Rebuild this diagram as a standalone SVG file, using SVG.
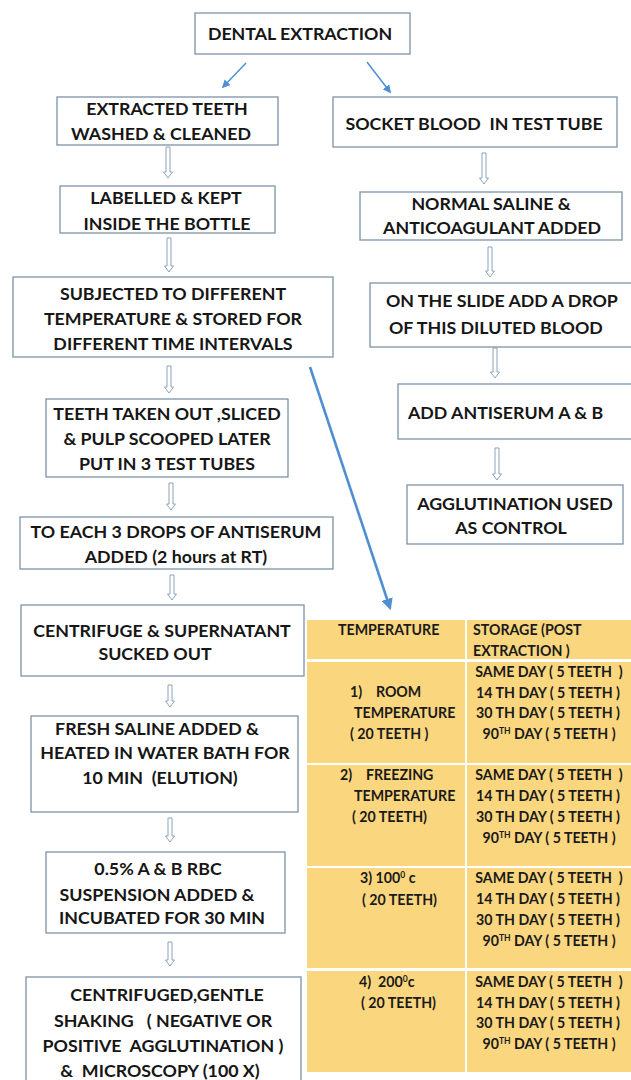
<svg xmlns="http://www.w3.org/2000/svg" width="631" height="1080" viewBox="0 0 631 1080">
<style>
.box{fill:#fff;stroke:#7d92a8;stroke-width:1.3}
.t{font-family:Lato,"Open Sans",sans-serif;font-weight:bold;font-size:17.8px;fill:#161616;text-anchor:middle}
.s{text-anchor:start}
.tb{font-family:Lato,"Open Sans",sans-serif;font-weight:bold;font-size:14.2px;fill:#1a1a1a}
.m{text-anchor:middle}
.ha{fill:#fff;stroke:#8ea3ba;stroke-width:1}
.ba{stroke:#4f8fd1;fill:none}
.cell{fill:#fad77e}
</style>
<defs>
<marker id="ah" viewBox="0 0 10 10" refX="8" refY="5" markerWidth="4.5" markerHeight="4.5" orient="auto" markerUnits="strokeWidth">
<path d="M0,0 L10,5 L0,10 z" fill="#4f8fd1"/>
</marker>
<marker id="ah2" viewBox="0 0 10 10" refX="8" refY="5" markerWidth="5.5" markerHeight="5.5" orient="auto" markerUnits="strokeWidth">
<path d="M0,0 L10,5 L0,10 z" fill="#4f8fd1"/>
</marker>
</defs>

<g id="connectors">
<line class="ba" x1="246" y1="63" x2="223" y2="87" stroke-width="1.5" marker-end="url(#ah2)"/>
<line class="ba" x1="367" y1="62" x2="390" y2="92" stroke-width="1.5" marker-end="url(#ah2)"/>
<line class="ba" x1="310" y1="367" x2="390" y2="608" stroke-width="2.6" marker-end="url(#ah)"/>
<path class="ha" d="M166,147 h4 v25 h2.5 l-4.5,6 l-4.5,-6 h2.5 z"/>
<path class="ha" d="M482,153 h4 v25 h2.5 l-4.5,6 l-4.5,-6 h2.5 z"/>
<path class="ha" d="M167,238 h4 v28 h2.5 l-4.5,6 l-4.5,-6 h2.5 z"/>
<path class="ha" d="M488,247 h4 v24 h2.5 l-4.5,6 l-4.5,-6 h2.5 z"/>
<path class="ha" d="M167,366 h4 v21 h2.5 l-4.5,6 l-4.5,-6 h2.5 z"/>
<path class="ha" d="M493,348 h4 v24 h2.5 l-4.5,6 l-4.5,-6 h2.5 z"/>
<path class="ha" d="M169,483 h4 v21 h2.5 l-4.5,6 l-4.5,-6 h2.5 z"/>
<path class="ha" d="M495,448 h4 v26 h2.5 l-4.5,6 l-4.5,-6 h2.5 z"/>
<path class="ha" d="M170,575 h4 v19 h2.5 l-4.5,6 l-4.5,-6 h2.5 z"/>
<path class="ha" d="M168,685 h4 v16 h2.5 l-4.5,6 l-4.5,-6 h2.5 z"/>
<path class="ha" d="M168,818 h4 v18 h2.5 l-4.5,6 l-4.5,-6 h2.5 z"/>
<path class="ha" d="M168,942 h4 v18 h2.5 l-4.5,6 l-4.5,-6 h2.5 z"/>
</g>

<g id="n-dental">
<rect class="box" x="195" y="13" width="215" height="41"/>
<text class="t" x="300" y="40">DENTAL EXTRACTION</text>
</g>
<g id="n-extracted">
<rect class="box" x="57" y="97" width="221" height="48"/>
<text class="t" x="167" y="115">EXTRACTED TEETH</text>
<text class="t" x="161" y="140">WASHED &amp; CLEANED</text>
</g>
<g id="n-socket">
<rect class="box" x="333" y="97" width="284" height="50"/>
<text class="t" x="474" y="130" xml:space="preserve">SOCKET BLOOD  IN TEST TUBE</text>
</g>
<g id="n-labelled">
<rect class="box" x="60" y="186" width="215" height="47"/>
<text class="t" x="166" y="204">LABELLED &amp; KEPT</text>
<text class="t" x="167" y="230">INSIDE THE BOTTLE</text>
</g>
<g id="n-saline">
<rect class="box" x="360" y="192" width="262" height="48"/>
<text class="t" x="491" y="210">NORMAL SALINE &amp;</text>
<text class="t" x="492" y="234">ANTICOAGULANT ADDED</text>
</g>
<g id="n-subjected">
<rect class="box" x="13" y="277" width="320" height="80"/>
<text class="t" x="173" y="300">SUBJECTED TO DIFFERENT</text>
<text class="t" x="173" y="325">TEMPERATURE &amp; STORED FOR</text>
<text class="t" x="173" y="350">DIFFERENT TIME INTERVALS</text>
</g>
<g id="n-slide">
<rect class="box" x="370" y="283" width="270" height="64"/>
<text class="t s" x="386" y="307">ON THE SLIDE ADD A DROP</text>
<text class="t s" x="389" y="334">OF THIS DILUTED BLOOD</text>
</g>
<g id="n-teeth">
<rect class="box" x="46" y="399" width="242" height="78"/>
<text class="t" x="167" y="420">TEETH TAKEN OUT ,SLICED</text>
<text class="t" x="167" y="445">&amp; PULP SCOOPED LATER</text>
<text class="t" x="167" y="470">PUT IN 3 TEST TUBES</text>
</g>
<g id="n-antiserum">
<rect class="box" x="398" y="384" width="240" height="55"/>
<text class="t s" x="408" y="419">ADD ANTISERUM A &amp; B</text>
</g>
<g id="n-agglutination">
<rect class="box" x="407" y="485" width="216" height="59"/>
<text class="t" x="515" y="510">AGGLUTINATION USED</text>
<text class="t" x="511" y="534">AS CONTROL</text>
</g>
<g id="n-drops">
<rect class="box" x="20" y="517" width="313" height="52"/>
<text class="t" x="176" y="538">TO EACH 3 DROPS OF ANTISERUM</text>
<text class="t" x="176" y="563">ADDED (2 hours at RT)</text>
</g>
<g id="n-centrifuge">
<rect class="box" x="21" y="605" width="283" height="71"/>
<text class="t" x="162" y="637">CENTRIFUGE &amp; SUPERNATANT</text>
<text class="t" x="155" y="660">SUCKED OUT</text>
</g>
<g id="n-fresh">
<rect class="box" x="31" y="716" width="267" height="96"/>
<text class="t" x="157" y="735">FRESH SALINE ADDED &amp;</text>
<text class="t" x="165" y="759">HEATED IN WATER BATH FOR</text>
<text class="t" x="160" y="784" xml:space="preserve">10 MIN  (ELUTION)</text>
</g>
<g id="n-rbc">
<rect class="box" x="46" y="852" width="239" height="81"/>
<text class="t" x="158" y="875">0.5% A &amp; B RBC</text>
<text class="t" x="157" y="901">SUSPENSION ADDED &amp;</text>
<text class="t" x="162" y="924">INCUBATED FOR 30 MIN</text>
</g>
<g id="n-final">
<rect class="box" x="26" y="977" width="275" height="104"/>
<text class="t" x="167" y="1001">CENTRIFUGED,GENTLE</text>
<text class="t" x="163" y="1027" xml:space="preserve">SHAKING   ( NEGATIVE OR</text>
<text class="t" x="163" y="1052" xml:space="preserve">POSITIVE  AGGLUTINATION )</text>
<text class="t" x="160" y="1077" xml:space="preserve">&amp;  MICROSCOPY (100 X)</text>
</g>

<g id="n-table">
<rect x="307" y="617" width="324" height="458" fill="#fff"/>
<rect class="cell" x="307" y="620" width="158" height="39"/>
<rect class="cell" x="467" y="620" width="164" height="39"/>
<rect class="cell" x="307" y="662" width="158" height="101"/>
<rect class="cell" x="467" y="662" width="164" height="101"/>
<rect class="cell" x="307" y="765" width="158" height="101"/>
<rect class="cell" x="467" y="765" width="164" height="101"/>
<rect class="cell" x="307" y="868" width="158" height="100"/>
<rect class="cell" x="467" y="868" width="164" height="100"/>
<rect class="cell" x="307" y="971" width="158" height="101"/>
<rect class="cell" x="467" y="971" width="164" height="101"/>

<text class="tb" x="338" y="635">TEMPERATURE</text>
<text class="tb" x="473" y="635">STORAGE (POST</text>
<text class="tb" x="473" y="656">EXTRACTION )</text>

<text class="tb" x="350" y="697" xml:space="preserve">1)    ROOM</text>
<text class="tb" x="354" y="718">TEMPERATURE</text>
<text class="tb" x="350" y="739" xml:space="preserve">( 20 TEETH )</text>

<text class="tb" x="340" y="780" xml:space="preserve">2)    FREEZING</text>
<text class="tb" x="354" y="801">TEMPERATURE</text>
<text class="tb" x="352" y="822">( 20 TEETH)</text>

<text class="tb" x="360" y="883">3) 100<tspan font-size="8.5" dy="-5">0</tspan><tspan dy="5"> c</tspan></text>
<text class="tb" x="362" y="905">( 20 TEETH)</text>

<text class="tb" x="359" y="987" xml:space="preserve">4)  200<tspan font-size="8.5" dy="-5">0</tspan><tspan dy="5">c</tspan></text>
<text class="tb" x="361" y="1008">( 20 TEETH)</text>

<text class="tb m" x="549" y="677" xml:space="preserve">SAME DAY ( 5 TEETH  )</text>
<text class="tb m" x="548" y="698">14 TH DAY ( 5 TEETH )</text>
<text class="tb m" x="548" y="718">30 TH DAY ( 5 TEETH )</text>
<text class="tb m" x="549" y="739">90<tspan font-size="8.5" dy="-5">TH</tspan><tspan dy="5"> DAY ( 5 TEETH )</tspan></text>

<text class="tb m" x="549" y="780" xml:space="preserve">SAME DAY ( 5 TEETH  )</text>
<text class="tb m" x="548" y="801">14 TH DAY ( 5 TEETH )</text>
<text class="tb m" x="548" y="822">30 TH DAY ( 5 TEETH )</text>
<text class="tb m" x="549" y="843">90<tspan font-size="8.5" dy="-5">TH</tspan><tspan dy="5"> DAY ( 5 TEETH )</tspan></text>

<text class="tb m" x="549" y="883" xml:space="preserve">SAME DAY ( 5 TEETH  )</text>
<text class="tb m" x="548" y="904">14 TH DAY ( 5 TEETH )</text>
<text class="tb m" x="548" y="925">30 TH DAY ( 5 TEETH )</text>
<text class="tb m" x="549" y="946">90<tspan font-size="8.5" dy="-5">TH</tspan><tspan dy="5"> DAY ( 5 TEETH )</tspan></text>

<text class="tb m" x="549" y="987" xml:space="preserve">SAME DAY ( 5 TEETH  )</text>
<text class="tb m" x="548" y="1008">14 TH DAY ( 5 TEETH )</text>
<text class="tb m" x="548" y="1028">30 TH DAY ( 5 TEETH )</text>
<text class="tb m" x="549" y="1049">90<tspan font-size="8.5" dy="-5">TH</tspan><tspan dy="5"> DAY ( 5 TEETH )</tspan></text>
</g>
</svg>
